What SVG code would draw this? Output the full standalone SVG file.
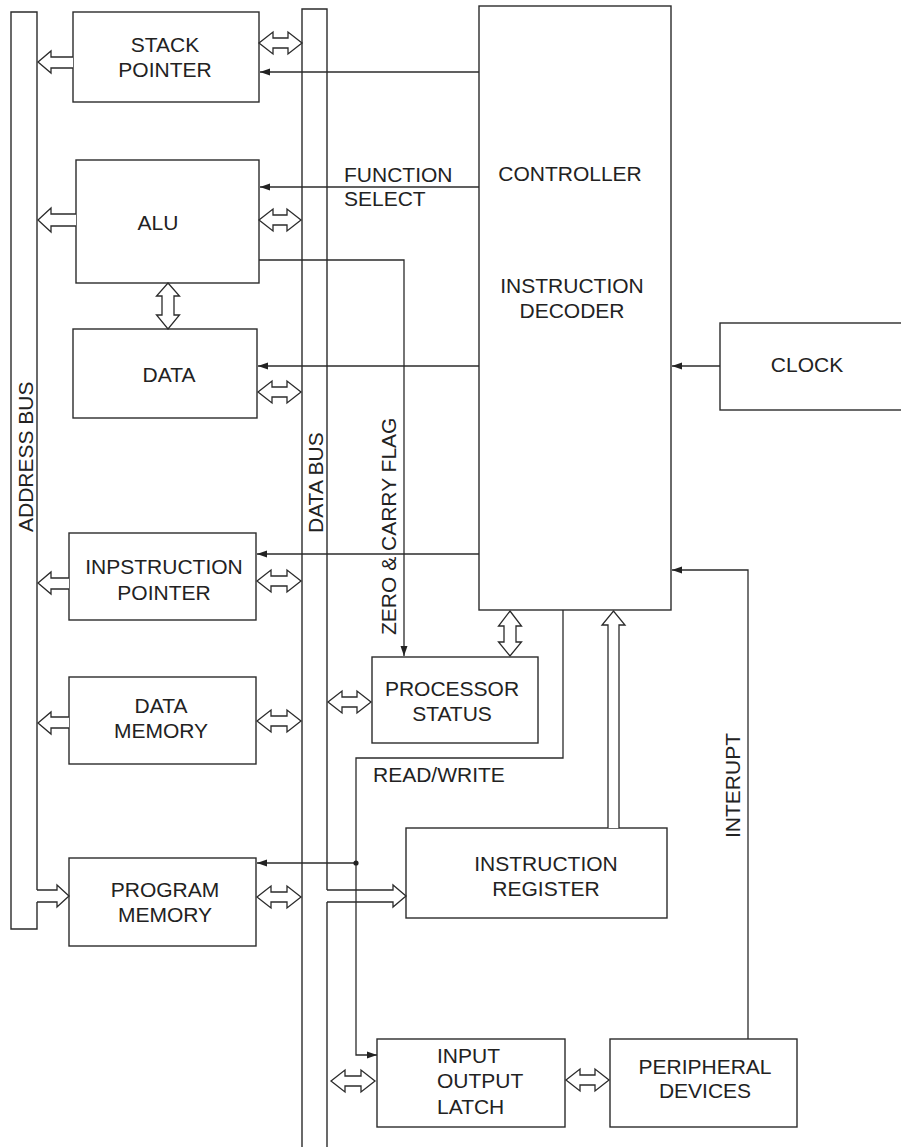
<svg xmlns="http://www.w3.org/2000/svg" width="901" height="1147" viewBox="0 0 901 1147">
<style>
.b{fill:none;stroke:#2b2b2b;stroke-width:1.4}
.h{fill:#fff;stroke:#2b2b2b;stroke-width:1.3;stroke-linejoin:miter}
.l{fill:none;stroke:#2b2b2b;stroke-width:1.3}
.a{fill:none;stroke:#2b2b2b;stroke-width:1.3;marker-end:url(#ah)}
text{font-family:"Liberation Sans",Arial,Helvetica,sans-serif;font-size:21px;fill:#222}
.m{text-anchor:middle}
</style>
<defs>
<marker id="ah" markerWidth="10" markerHeight="8" refX="10" refY="4" orient="auto" markerUnits="userSpaceOnUse">
<path d="M0,0.5 L10,4 L0,7.5 z" fill="#222"/>
</marker>
</defs>
<rect width="901" height="1147" fill="#fff"/>

<g id="address-bus">
<path class="b" d="M37,890 V12 H11 V929 H37 V902"/>
<text transform="translate(33,532) rotate(-90)">ADDRESS BUS</text>
</g>

<g id="data-bus">
<path class="b" d="M302,1147 V9 H327 V890"/>
<path class="b" d="M327,902 V1147"/>
<text transform="translate(323,533) rotate(-90)">DATA BUS</text>
</g>

<g id="stack-pointer">
<rect class="b" x="73" y="12" width="186" height="90"/>
<text class="m" x="165" y="52">STACK</text>
<text class="m" x="165" y="77">POINTER</text>
</g>

<g id="alu">
<rect class="b" x="76" y="160" width="183" height="123"/>
<text class="m" x="158" y="230">ALU</text>
</g>

<g id="data">
<rect class="b" x="73" y="329" width="184" height="89"/>
<text class="m" x="169" y="382">DATA</text>
</g>

<g id="instruction-pointer">
<rect class="b" x="69" y="533" width="187" height="87"/>
<text class="m" x="164" y="574">INPSTRUCTION</text>
<text class="m" x="164" y="600">POINTER</text>
</g>

<g id="data-memory">
<rect class="b" x="69" y="677" width="187" height="87"/>
<text class="m" x="161" y="713">DATA</text>
<text class="m" x="161" y="738">MEMORY</text>
</g>

<g id="program-memory">
<rect class="b" x="69" y="858" width="187" height="88"/>
<text class="m" x="165" y="897">PROGRAM</text>
<text class="m" x="165" y="922">MEMORY</text>
</g>

<g id="controller">
<rect class="b" x="479" y="6" width="192" height="604"/>
<text class="m" x="570" y="181">CONTROLLER</text>
<text class="m" x="572" y="293">INSTRUCTION</text>
<text class="m" x="572" y="318">DECODER</text>
</g>

<g id="clock">
<rect class="b" x="720" y="323" width="190" height="87"/>
<text class="m" x="807" y="372">CLOCK</text>
</g>

<g id="processor-status">
<rect class="b" x="372" y="657" width="166" height="86"/>
<text class="m" x="452" y="696">PROCESSOR</text>
<text class="m" x="452" y="721">STATUS</text>
</g>

<g id="instruction-register">
<rect class="b" x="406" y="828" width="261" height="90"/>
<text class="m" x="546" y="871">INSTRUCTION</text>
<text class="m" x="546" y="896">REGISTER</text>
</g>

<g id="io-latch">
<rect class="b" x="377" y="1039" width="188" height="88"/>
<text x="437" y="1063">INPUT</text>
<text x="437" y="1088">OUTPUT</text>
<text x="437" y="1114">LATCH</text>
</g>

<g id="peripheral-devices">
<rect class="b" x="610" y="1039" width="187" height="88"/>
<text class="m" x="705" y="1074">PERIPHERAL</text>
<text class="m" x="705" y="1098">DEVICES</text>
</g>

<g id="connectors">
<!-- hollow arrows to address bus -->
<path class="h" d="M73,57 H51 V51 L38,62 L51,73 V68 H73"/>
<path class="h" d="M76,214 H51 V208 L38,220 L51,232 V226 H76"/>
<path class="h" d="M69,578 H51 V572 L38,583 L51,594 V589 H69"/>
<path class="h" d="M69,717 H51 V712 L38,723 L51,734 V728 H69"/>
<!-- address bus to program memory -->
<path class="h" d="M37,890 H57 V885 L69,896 L57,907 V902 H37"/>
<!-- data bus to instruction register -->
<path class="h" d="M327,890 H393 V885 L406,896 L393,907 V902 H327"/>
<!-- double arrows -->
<polygon class="h" points="259,43 273,32 273,38 288,38 288,32 302,43 288,54 288,48 273,48 273,54"/>
<polygon class="h" points="259,220 273,209 273,215 287,215 287,209 301,220 287,231 287,225 273,225 273,231"/>
<polygon class="h" points="258,392 272,381 272,387 287,387 287,381 301,392 287,403 287,397 272,397 272,403"/>
<polygon class="h" points="257,581 271,570 271,576 287,576 287,570 301,581 287,592 287,586 271,586 271,592"/>
<polygon class="h" points="257,721 271,710 271,716 287,716 287,710 301,721 287,732 287,726 271,726 271,732"/>
<polygon class="h" points="257,897 271,886 271,892 287,892 287,886 301,897 287,908 287,902 271,902 271,908"/>
<polygon class="h" points="328,702 342,691 342,697 357,697 357,691 371,702 357,713 357,707 342,707 342,713"/>
<polygon class="h" points="331,1081 345,1070 345,1076 361,1076 361,1070 375,1081 361,1092 361,1086 345,1086 345,1092"/>
<polygon class="h" points="566,1080 580,1069 580,1075 595,1075 595,1069 609,1080 595,1091 595,1085 580,1085 580,1091"/>
<polygon class="h" points="168,283 179.5,296 174,296 174,315 179.5,315 168,329 156.5,315 162,315 162,296 156.5,296"/>
<polygon class="h" points="510,611 521.5,626 516,626 516,642 521.5,642 510,656 498.5,642 504,642 504,626 498.5,626"/>
<!-- instruction register to controller -->
<path class="h" d="M608,828 V625 H602 L613.5,611 L625,625 H619 V828"/>
<!-- control lines -->
<path class="a" d="M479,72 H260"/>
<path class="a" d="M479,187 H260"/>
<path class="a" d="M479,366 H258"/>
<path class="a" d="M479,554 H257"/>
<path class="a" d="M720,366 H672"/>
<path class="a" d="M748,1039 V570 H672"/>
<path class="a" d="M259,260 H404 V656"/>
<path class="a" d="M563,610 V758 H356 V1055 H377"/>
<path class="a" d="M356,863 H257"/>
<circle cx="356" cy="863" r="2.6" fill="#222"/>
<!-- labels -->
<text x="344" y="182">FUNCTION</text>
<text x="344" y="206">SELECT</text>
<text transform="translate(396,635) rotate(-90)">ZERO &amp; CARRY FLAG</text>
<text x="373" y="782">READ/WRITE</text>
<text transform="translate(740,838) rotate(-90)">INTERUPT</text>
</g>
</svg>
